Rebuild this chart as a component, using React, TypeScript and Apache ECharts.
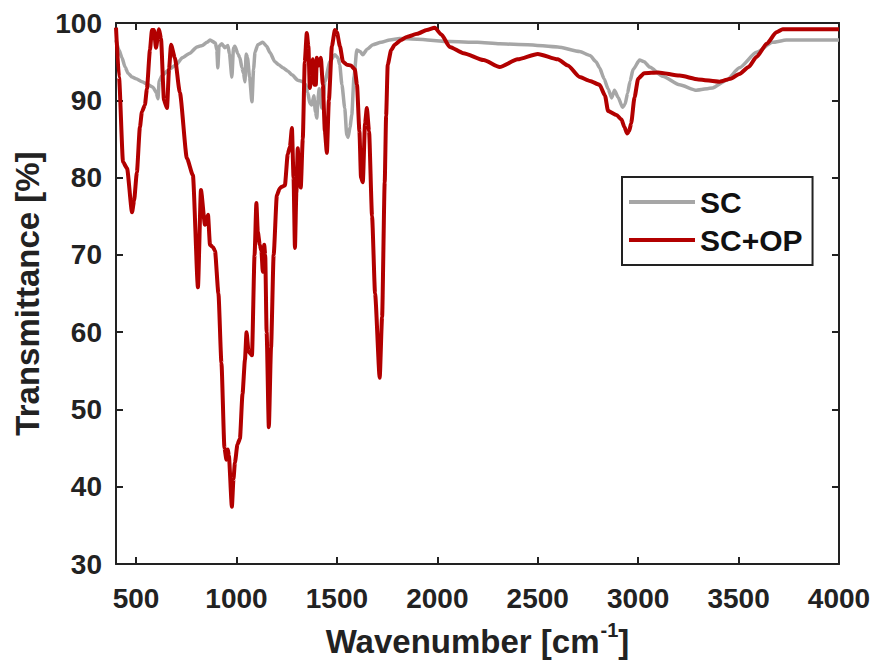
import React, { useEffect, useRef } from "react";
import * as echarts from "echarts";

// SC (grey) spectrum
const scWave = [400, 415, 430, 445, 460, 480, 500, 530, 560, 584, 600, 609, 615, 630, 660, 700, 730, 768, 803, 830, 853, 868, 895, 902, 907, 913, 927, 942, 957, 965, 977, 985, 992, 1007, 1017, 1027, 1035, 1042, 1048, 1055, 1065, 1077, 1085, 1092, 1106, 1131, 1150, 1166, 1191, 1210, 1231, 1255, 1276, 1305, 1330, 1345, 1355, 1365, 1375, 1385, 1393, 1400, 1405, 1412, 1425, 1433, 1440, 1465, 1490, 1505, 1514, 1525, 1539, 1549, 1556, 1565, 1574, 1585, 1599, 1615, 1629, 1650, 1679, 1720, 1763, 1813, 1900, 2062, 2200, 2310, 2450, 2600, 2709, 2760, 2790, 2808, 2830, 2850, 2868, 2882, 2900, 2922, 2935, 2947, 2960, 2975, 3007, 3030, 3057, 3122, 3206, 3290, 3370, 3440, 3504, 3589, 3669, 3738, 4000];
const scTrans = [97.8, 96.5, 95.5, 94.3, 93.5, 93, 92.8, 92.4, 92, 91.7, 91, 90.2, 92.5, 93.2, 93.9, 94.6, 95.5, 96.1, 96.9, 97.1, 97.5, 97.8, 97.4, 96.5, 94.2, 97, 97.3, 96.8, 97.1, 96, 93, 96.8, 97, 96, 95.5, 94.2, 93.5, 92.4, 96, 95.5, 93, 89.8, 94, 96.2, 97.2, 97.5, 97, 96.2, 95, 94.6, 94.2, 93.8, 93.3, 92.6, 92.4, 92, 91, 89.6, 89.4, 90.6, 88.5, 87.7, 90, 91.5, 89, 90.5, 92.4, 95, 95.9, 95.5, 94.6, 92, 89, 85.5, 85.2, 86.5, 88.1, 93, 96.5, 96.3, 95.9, 96.6, 97.2, 97.5, 97.8, 98, 97.9, 97.6, 97.5, 97.3, 97.2, 96.9, 96.3, 95.8, 95, 94.2, 92.8, 91.5, 90.3, 91.3, 90.4, 89.1, 89.5, 90.9, 92.5, 94, 95.2, 95, 94.3, 93.1, 92, 91.3, 91.6, 92.6, 94.2, 96.2, 97.5, 97.8, 97.8];

// SC+OP (red) spectrum
const opWave = [400, 415, 435, 455, 480, 490, 504, 519, 529, 544, 554, 569, 579, 589, 599, 614, 624, 639, 654, 664, 674, 693, 718, 753, 783, 808, 823, 843, 858, 868, 883, 893, 910, 925, 940, 950, 957, 962, 977, 985, 992, 1005, 1017, 1030, 1042, 1050, 1060, 1077, 1090, 1099, 1106, 1116, 1124, 1131, 1138, 1143, 1150, 1161, 1172, 1185, 1201, 1215, 1226, 1241, 1255, 1266, 1276, 1284, 1291, 1298, 1305, 1312, 1320, 1330, 1340, 1350, 1358, 1365, 1373, 1380, 1388, 1395, 1400, 1410, 1420, 1430, 1440, 1450, 1460, 1475, 1490, 1500, 1515, 1530, 1549, 1570, 1589, 1600, 1612, 1620, 1629, 1640, 1649, 1660, 1675, 1690, 1713, 1725, 1738, 1745, 1753, 1770, 1788, 1820, 1848, 1900, 1947, 1987, 2020, 2062, 2130, 2230, 2310, 2400, 2500, 2600, 2650, 2709, 2760, 2808, 2835, 2850, 2892, 2917, 2932, 2945, 2955, 2965, 2982, 3000, 3030, 3100, 3206, 3300, 3405, 3460, 3504, 3550, 3589, 3640, 3688, 3720, 3850, 4000];
const opTrans = [99.4, 93, 82, 81.2, 75.5, 77, 80.7, 86.5, 88.5, 89.4, 91.5, 96.5, 99.1, 99.1, 96.8, 99.2, 98, 90, 89, 94, 97.2, 95.5, 91, 82.5, 80.3, 65.8, 78.4, 73.9, 75.2, 71.3, 71, 70.5, 65, 56, 45, 43.5, 44.8, 44, 37.4, 41, 43.1, 45.5, 46.2, 52, 56.4, 60, 57.5, 57, 70, 76.7, 73, 71.3, 70.5, 67.8, 71.3, 70, 60, 47.7, 58, 70, 77.7, 78.6, 78.8, 79, 83, 84, 86.4, 80, 70.9, 78, 83.8, 80, 78.7, 85, 95, 98.7, 97, 91.6, 93, 95.3, 92, 92, 95.5, 94.5, 95.5, 92, 86, 83.2, 90, 97, 99.1, 98.8, 97, 95, 94.6, 94.5, 94, 92, 86, 80, 79.4, 87, 89, 86, 75, 65, 54.1, 62, 79.4, 88, 94.6, 96.5, 97.2, 97.8, 98.2, 98.6, 99.1, 99.4, 98.5, 96.9, 96.1, 95.2, 94.3, 95.3, 96, 95.3, 94.5, 93, 92.5, 92, 90.6, 88.6, 88.1, 87.5, 86.5, 85.7, 86, 87, 90.4, 92.8, 93.5, 93.6, 93.2, 92.7, 92.4, 92.8, 93.4, 94.3, 95.6, 97.3, 98.8, 99.2, 99.2, 99.2];

const xTicks = [500, 1000, 1500, 2000, 2500, 3000, 3500, 4000];
const seriesNames = ["SC", "SC+OP"];

const FONT = '"Liberation Sans", Arial, Helvetica, sans-serif';
const INK = "#222222";
const GREY = "#a6a6a6";
const RED = "#b20000";

export default function App() {
  const ref = useRef<HTMLDivElement>(null);
  useEffect(() => {
    if (!ref.current) return;
    const chart = echarts.init(ref.current, undefined, { renderer: "svg" });
    const scData = scWave.map((w, i) => [w, scTrans[i]]);
    const opData = opWave.map((w, i) => [w, opTrans[i]]);
    const axisLine = { show: true, lineStyle: { color: INK, width: 2 } };
    const tick = { show: true, inside: true, length: 7, lineStyle: { color: INK, width: 2 } };
    chart.setOption({
      animation: false,
      backgroundColor: "#ffffff",
      grid: { left: 116, right: 39, top: 23, bottom: 107, containLabel: false },
      legend: {
        data: [
          { name: seriesNames[0], icon: "rect" },
          { name: seriesNames[1], icon: "rect" },
        ],
        orient: "vertical",
        left: 622,
        top: 177,
        padding: [8, 10, 8, 7],
        itemGap: 4,
        itemWidth: 66,
        itemHeight: 4,
        borderColor: INK,
        borderWidth: 2,
        borderRadius: 0,
        backgroundColor: "#ffffff",
        textStyle: { fontFamily: FONT, fontSize: 30, fontWeight: "bold", color: "#111", lineHeight: 34 },
      },
      xAxis: [
        {
          type: "value",
          min: 400,
          max: 4000,
          position: "bottom",
          axisLine,
          axisTick: { ...tick, customValues: xTicks },
          splitLine: { show: false },
          axisLabel: {
            customValues: xTicks,
            formatter: (v: number) => String(v),
            margin: 20,
            fontFamily: FONT,
            fontSize: 28,
            fontWeight: "bold",
            color: INK,
          },
          name: "{a|Wavenumber [cm}{s|-1}{a|]}",
          nameLocation: "middle",
          nameGap: 56,
          nameTextStyle: {
            rich: {
              a: { fontFamily: FONT, fontSize: 33, fontWeight: "bold", color: INK, lineHeight: 38, verticalAlign: "bottom" },
              s: { fontFamily: FONT, fontSize: 20, fontWeight: "bold", color: INK, lineHeight: 38, verticalAlign: "top", padding: [0, 0, 0, 1] },
            },
          },
        },
        {
          type: "value",
          min: 400,
          max: 4000,
          position: "top",
          axisLine,
          axisTick: { ...tick, customValues: xTicks },
          axisLabel: { show: false },
          splitLine: { show: false },
        },
      ],
      yAxis: [
        {
          type: "value",
          min: 30,
          max: 100,
          interval: 10,
          position: "left",
          axisLine,
          axisTick: tick,
          splitLine: { show: false },
          axisLabel: { margin: 14, fontFamily: FONT, fontSize: 28, fontWeight: "bold", color: INK },
          name: "Transmittance [%]",
          nameLocation: "middle",
          nameGap: 67,
          nameTextStyle: { fontFamily: FONT, fontSize: 33, fontWeight: "bold", color: INK },
        },
        {
          type: "value",
          min: 30,
          max: 100,
          interval: 10,
          position: "right",
          axisLine,
          axisTick: tick,
          axisLabel: { show: false },
          splitLine: { show: false },
        },
      ],
      series: [
        {
          name: seriesNames[0],
          type: "line",
          data: scData,
          symbol: "none",
          showSymbol: false,
          smooth: 0.2,
          smoothMonotone: "x",
          lineStyle: { color: GREY, width: 3.5 },
          itemStyle: { color: GREY },
        },
        {
          name: seriesNames[1],
          type: "line",
          data: opData,
          symbol: "none",
          showSymbol: false,
          smooth: 0.2,
          smoothMonotone: "x",
          lineStyle: { color: RED, width: 4 },
          itemStyle: { color: RED },
        },
      ],
    });
    return () => chart.dispose();
  }, []);
  return <div ref={ref} style={{ width: 878, height: 671, margin: -8 }} />;
}
